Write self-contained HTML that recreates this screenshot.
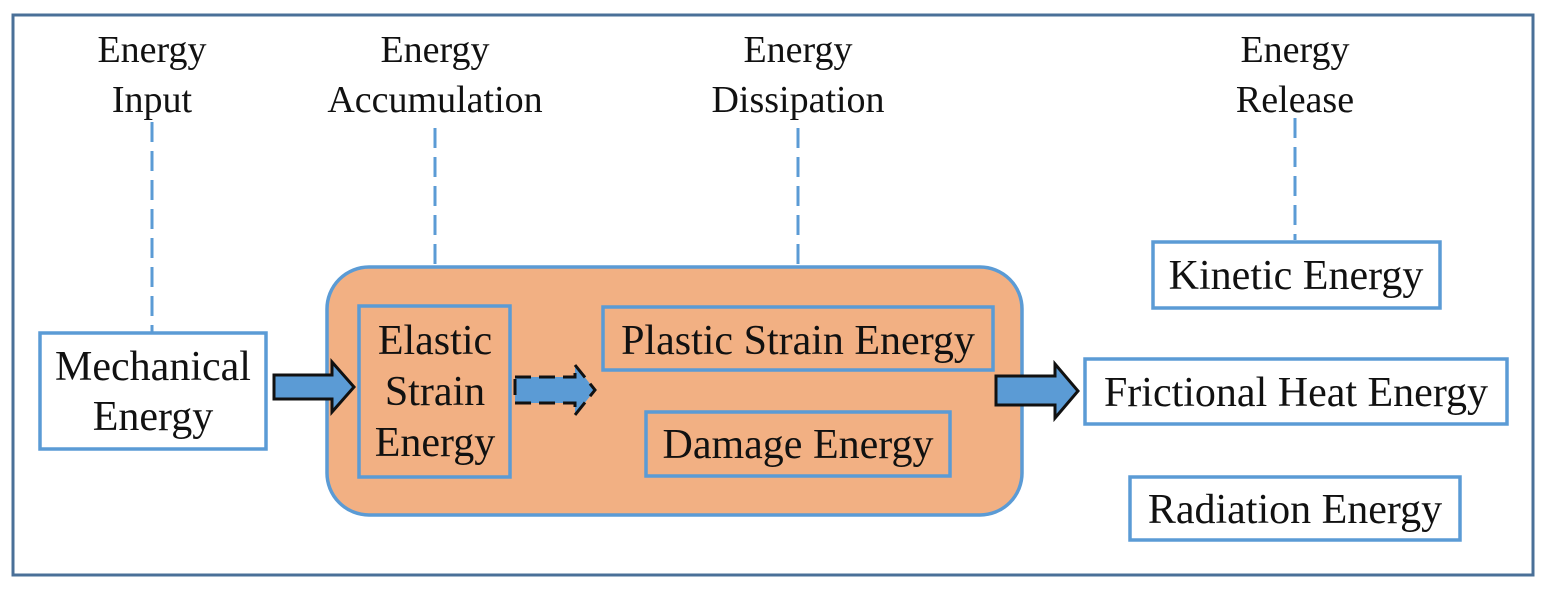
<!DOCTYPE html>
<html><head><meta charset="utf-8"><style>
html,body{margin:0;padding:0;background:#fff}
svg{display:block}
text{font-family:"Liberation Serif",serif;fill:#111}
</style></head><body>
<svg width="1546" height="590" viewBox="0 0 1546 590" xmlns="http://www.w3.org/2000/svg">
<rect x="13" y="15" width="1520" height="560" fill="#fff" stroke="#4a7098" stroke-width="3"/>
<g font-size="38" text-anchor="middle">
<text x="152" y="62">Energy</text><text x="152" y="112">Input</text>
<text x="435" y="62">Energy</text><text x="435" y="112">Accumulation</text>
<text x="798" y="62">Energy</text><text x="798" y="112">Dissipation</text>
<text x="1295" y="62">Energy</text><text x="1295" y="112">Release</text>
</g>
<g stroke="#5b9bd5" stroke-width="3" stroke-dasharray="20,9" fill="none">
<line x1="152" y1="122" x2="152" y2="332"/>
<line x1="435" y1="128" x2="435" y2="305"/>
<line x1="798" y1="128" x2="798" y2="307"/>
<line x1="1295" y1="118" x2="1295" y2="240"/>
</g>
<rect x="327" y="267" width="695" height="248" rx="42" fill="#f2b083" stroke="#5b9bd5" stroke-width="3.5"/>
<g fill="none" stroke="#5b9bd5" stroke-width="3.5">
<rect x="40" y="333" width="226" height="116" fill="#fff"/>
<rect x="359" y="306" width="151" height="171"/>
<rect x="603" y="307" width="390" height="63"/>
<rect x="646" y="412" width="304" height="64"/>
<rect x="1153" y="242" width="287" height="66" fill="#fff"/>
<rect x="1085" y="359" width="422" height="65" fill="#fff"/>
<rect x="1130" y="477" width="330" height="63" fill="#fff"/>
</g>
<g font-size="42" text-anchor="middle">
<text x="153" y="380">Mechanical</text><text x="153" y="430">Energy</text>
<text x="435" y="354">Elastic</text><text x="435" y="405">Strain</text><text x="435" y="456">Energy</text>
<text x="798" y="354">Plastic Strain Energy</text>
<text x="798" y="458">Damage Energy</text>
<text x="1296" y="289">Kinetic Energy</text>
<text x="1296" y="406">Frictional Heat Energy</text>
<text x="1295" y="523">Radiation Energy</text>
</g>
<g fill="#5b9bd5" stroke="#111" stroke-width="3" stroke-linejoin="miter">
<path d="M274 375 H332 V362 L354 387 L332 412 V399 H274 Z"/>
<path d="M996 376 H1055 V364 L1078 391 L1055 418 V405 H996 Z"/>
</g>
<path d="M515 377 H575 V365 L595 390 L575 415 V403 H515 Z" fill="#5b9bd5" stroke="#111" stroke-width="3" stroke-dasharray="16,8"/>
</svg>
</body></html>
